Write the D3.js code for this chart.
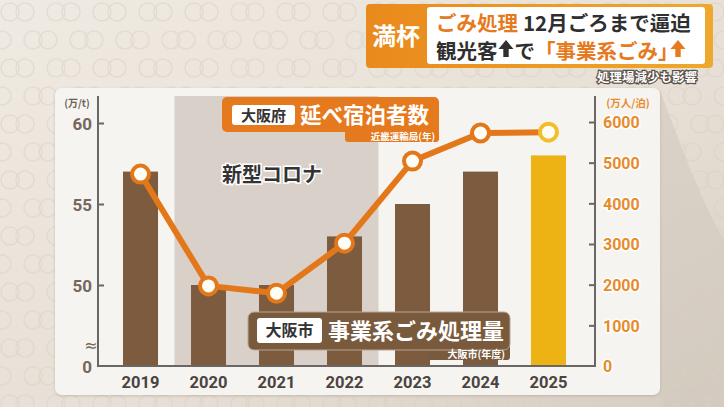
<!DOCTYPE html>
<html><head><meta charset="utf-8">
<script src="https://cdn.jsdelivr.net/npm/d3@7"></script>
<style>
html,body{margin:0;padding:0;background:#E8E1D8;}
svg{display:block;font-family:"Noto Sans CJK JP","Noto Sans",sans-serif;}
</style></head>
<body>
<svg id="c" width="724" height="407"></svg>
<script>
// ---- data ----
const years = ["2019","2020","2021","2022","2023","2024","2025"];
const garbage = [57, 50, 50, 53, 55, 57, 58];            // 万t (left axis, broken)
const stays = [4720, 1970, 1790, 3020, 5040, 5730, 5750]; // 万人泊 (right axis)
const leftTicks = [45, 50, 55, 60];
const leftTickLabels = ["0", "50", "55", "60"];
const rightTicks = [0, 1000, 2000, 3000, 4000, 5000, 6000];
const covidYears = ["2020", "2021", "2022"];

const svg = d3.select("#c");
const W = 724, H = 407;

// ---- background ----
const defs = svg.append("defs");
const bg = defs.append("linearGradient").attr("id","bgG").attr("x1",0).attr("x2",1).attr("y1",0).attr("y2",1);
bg.append("stop").attr("offset","0").attr("stop-color","#EFEAE3");
bg.append("stop").attr("offset","0.6").attr("stop-color","#E7DFD5");
bg.append("stop").attr("offset","1").attr("stop-color","#D6CCC1");
svg.append("rect").attr("width",W).attr("height",H).attr("fill","url(#bgG)");
svg.append("path").attr("d","M660,90 Q700,200 724,240 L724,407 L660,407 Z").attr("fill","#D2C9BE").attr("opacity",0.6);

const pat = svg.append("g").attr("fill","none").attr("stroke","#D9CFC3").attr("stroke-width",1.6).attr("opacity",0.45);
for (let r = 0; r < 16; r++) {
  for (let c = -1; c < 18; c++) {
    const cx = c * 46 + (r % 2 ? 23 : 0) + 10, cy = r * 28 + 12;
    pat.append("circle").attr("cx",cx).attr("cy",cy).attr("r",9);
    pat.append("circle").attr("cx",cx+15).attr("cy",cy).attr("r",9);
  }
}

// ---- panel ----
const sh = defs.append("filter").attr("id","sh").attr("x","-5%").attr("y","-5%").attr("width","110%").attr("height","115%");
sh.append("feDropShadow").attr("dx",0).attr("dy",1).attr("stdDeviation",1.5).attr("flood-color","#8a7a6a").attr("flood-opacity",0.35);
svg.append("rect").attr("x",55).attr("y",88).attr("width",605).attr("height",307).attr("rx",7)
  .attr("fill","#F6F4F0").attr("filter","url(#sh)");

// ---- scales ----
const x = d3.scaleBand().domain(years).range([106.5, 582.5]).paddingInner(0.485).paddingOuter(0.2426);
const yL = d3.scaleLinear().domain([45, 60]).range([366, 123]);
const yR = d3.scaleLinear().domain([0, 6000]).range([366, 122]);
const step = x.step();

// covid band
const c0 = x(covidYears[0]) - (step - x.bandwidth())/2;
const c1 = x(covidYears[covidYears.length-1]) + x.bandwidth() + (step - x.bandwidth())/2;
svg.append("rect").attr("x",c0).attr("y",96).attr("width",c1-c0).attr("height",366-96).attr("fill","#D9D1C9");

// bars
svg.append("g").selectAll("rect").data(years).join("rect")
  .attr("x", d => x(d)).attr("width", x.bandwidth())
  .attr("y", (d,i) => yL(garbage[i])).attr("height", (d,i) => yL(45) - yL(garbage[i]))
  .attr("fill", d => d === "2025" ? "#EDB213" : "#7C5B3F");

// ---- axes ----
const axisColor = "#6A6663";
const gL = svg.append("g").attr("transform","translate(98,0)")
  .call(d3.axisLeft(yL).tickValues(leftTicks).tickFormat((d,i)=>leftTickLabels[i]).tickSizeInner(-6).tickSizeOuter(0).tickPadding(6));
gL.select(".domain").remove();
gL.selectAll(".tick line").attr("stroke",axisColor).attr("stroke-width",2).filter(d=>d===45).remove();
gL.selectAll(".tick text").attr("fill","#75675B").attr("font-size",17).attr("font-weight",700)
  .attr("font-family","Roboto, 'Noto Sans', sans-serif").attr("dy","0.36em");

const gR = svg.append("g").attr("transform","translate(595,0)")
  .call(d3.axisRight(yR).tickValues(rightTicks).tickFormat(d3.format("d")).tickSizeInner(-6).tickSizeOuter(0).tickPadding(8));
gR.select(".domain").remove();
gR.selectAll(".tick line").attr("stroke",axisColor).attr("stroke-width",2).filter(d=>d===0).remove();
gR.selectAll(".tick text").attr("fill","#E68C2C").attr("font-size",16).attr("font-weight",700)
  .attr("font-family","Roboto, 'Noto Sans', sans-serif").attr("dy","0.36em")
  .attr("stroke","#FFFFFF").attr("stroke-width",3).attr("paint-order","stroke");

// axis frame lines
svg.append("path").attr("d","M98,96 L98,366 L595,366 L595,96").attr("fill","none").attr("stroke",axisColor).attr("stroke-width",2);

// break mark
svg.append("text").attr("x",91).attr("y",345).attr("text-anchor","middle").attr("dy","0.35em")
  .attr("font-size",16).attr("fill","#75675B").attr("font-family","DejaVu Sans").text("≈");

const gX = svg.append("g").attr("transform","translate(0,366)")
  .call(d3.axisBottom(x).tickSize(0).tickPadding(10));
gX.select(".domain").remove();
gX.selectAll(".tick text").attr("fill","#4A4340").attr("font-size",16.5).attr("font-weight",700)
  .attr("font-family","Roboto, 'Noto Sans', sans-serif");

// units
svg.append("text").attr("x",77).attr("y",107).attr("text-anchor","middle").attr("font-size",10).attr("font-weight",700)
  .attr("fill","#6E6258").text("(万/t)");
svg.append("text").attr("x",628).attr("y",107).attr("text-anchor","middle").attr("font-size",10.5).attr("font-weight",700)
  .attr("fill","#E68C2C").text("(万人/泊)");

// covid label
svg.append("text").attr("x",222).attr("y",182).attr("font-size",20).attr("font-weight",700)
  .attr("fill","#333333").attr("stroke","#FFFFFF").attr("stroke-width",3).attr("paint-order","stroke").text("新型コロナ");

// ---- line ----
const cx = d => x(d) + x.bandwidth()/2;
svg.append("path").datum(years)
  .attr("d", d3.line().x(d=>cx(d)).y((d,i)=>yR(stays[i])))
  .attr("fill","none").attr("stroke","#E3781A").attr("stroke-width",6).attr("stroke-linejoin","round");
svg.append("g").selectAll("circle").data(years).join("circle")
  .attr("cx", d=>cx(d)).attr("cy",(d,i)=>yR(stays[i])).attr("r",8.5)
  .attr("fill","#FFFDF6").attr("stroke", d=> d==="2025" ? "#F2BE2A" : "#E3781A").attr("stroke-width",4);

// ---- legend 1 (orange) ----
const lg1 = svg.append("g");
lg1.append("rect").attr("x",345).attr("y",126).attr("width",94).attr("height",16).attr("rx",3).attr("fill","#E5791D");
lg1.append("rect").attr("x",222).attr("y",97).attr("width",217).attr("height",35).attr("rx",5).attr("fill","#E5791D");
lg1.append("rect").attr("x",232).attr("y",105).attr("width",63).attr("height",20).attr("rx",3).attr("fill","#FFFFFF");
lg1.append("text").attr("x",263.5).attr("y",120.5).attr("text-anchor","middle").attr("font-size",15).attr("font-weight",700).attr("fill","#333").text("大阪府");
lg1.append("text").attr("x",300).attr("y",122.5).attr("font-size",21.5).attr("font-weight",700).attr("fill","#FFFFFF").text("延べ宿泊者数");
lg1.append("text").attr("x",435).attr("y",139.5).attr("text-anchor","end").attr("font-size",9.5).attr("font-weight",700).attr("fill","#FFFFFF").text("近畿運輸局(年)");

// ---- legend 2 (brown) ----
const lg2 = svg.append("g");
lg2.append("rect").attr("x",428).attr("y",344).attr("width",82).attr("height",16).attr("rx",3).attr("fill","#7A5A3D");
lg2.append("rect").attr("x",248).attr("y",312).attr("width",262).attr("height",38).attr("rx",6).attr("fill","#7A5A3D")
  .attr("stroke","#B8A594").attr("stroke-width",1);
lg2.append("rect").attr("x",257).attr("y",318).attr("width",65).attr("height",25).attr("rx",3).attr("fill","#FFFFFF");
lg2.append("text").attr("x",289.5).attr("y",336).attr("text-anchor","middle").attr("font-size",16).attr("font-weight",700).attr("fill","#333").text("大阪市");
lg2.append("text").attr("x",328).attr("y",339).attr("font-size",22).attr("font-weight",700).attr("fill","#FFFFFF").text("事業系ごみ処理量");
lg2.append("text").attr("x",505).attr("y",357.5).attr("text-anchor","end").attr("font-size",10).attr("font-weight",700).attr("fill","#FFFFFF").text("大阪市(年度)");

// ---- title box ----
const og = defs.append("linearGradient").attr("id","og").attr("x1",0).attr("x2",1);
og.append("stop").attr("offset","0").attr("stop-color","#E98A1C");
og.append("stop").attr("offset","1").attr("stop-color","#EFA82E");
const tb = svg.append("g");
tb.append("rect").attr("x",366).attr("y",4).attr("width",347).attr("height",64).attr("rx",4).attr("fill","url(#og)");
tb.append("rect").attr("x",427).attr("y",7).attr("width",278).attr("height",57).attr("rx",3).attr("fill","#FFFFFF");
tb.append("text").attr("x",396).attr("y",45).attr("text-anchor","middle").attr("font-size",24).attr("font-weight",700).attr("fill","#FFFFFF").text("満杯");

const orange = "#E57A1E", dark = "#2F2F2F";
function arrow(g, x0, baseY, color) {
  const w = 15;
  const p = `M${x0+w/2},${baseY-17} L${x0+w},${baseY-8} L${x0+w*0.68},${baseY-8} L${x0+w*0.68},${baseY} L${x0+w*0.32},${baseY} L${x0+w*0.32},${baseY-8} L${x0},${baseY-8} Z`;
  g.append("path").attr("d",p).attr("fill",color);
  return w;
}
const FS = 20.5;
const tt = tb.append("text").attr("font-size",FS).attr("font-weight",700);
tt.append("tspan").attr("x",436).attr("y",31).attr("fill",orange).text("ごみ処理");
tt.append("tspan").attr("dx",5).attr("fill",dark).text("12月ごろまで逼迫");
const s3 = tt.append("tspan").attr("x",436).attr("y",59).attr("fill",dark).text("観光客");
const s4 = tt.append("tspan").attr("dx",17).attr("fill",dark).text("で");
const s5 = tt.append("tspan").attr("dx",0).attr("fill",orange).text("「事業系ごみ」");
const L3 = s3.node().getComputedTextLength(), L4 = s4.node().getComputedTextLength(), L5 = s5.node().getComputedTextLength();
arrow(tb, 436 + L3 + 1, 57, dark);
arrow(tb, 436 + L3 + 17 + L4 + L5 - 8, 57, orange);

svg.append("text").attr("x",697).attr("y",82).attr("text-anchor","end").attr("font-size",12.5).attr("font-weight",700)
  .attr("fill","#FFFFFF").attr("stroke","#5A5048").attr("stroke-width",2.5).attr("paint-order","stroke").text("処理場減少も影響");
</script>
</body></html>
